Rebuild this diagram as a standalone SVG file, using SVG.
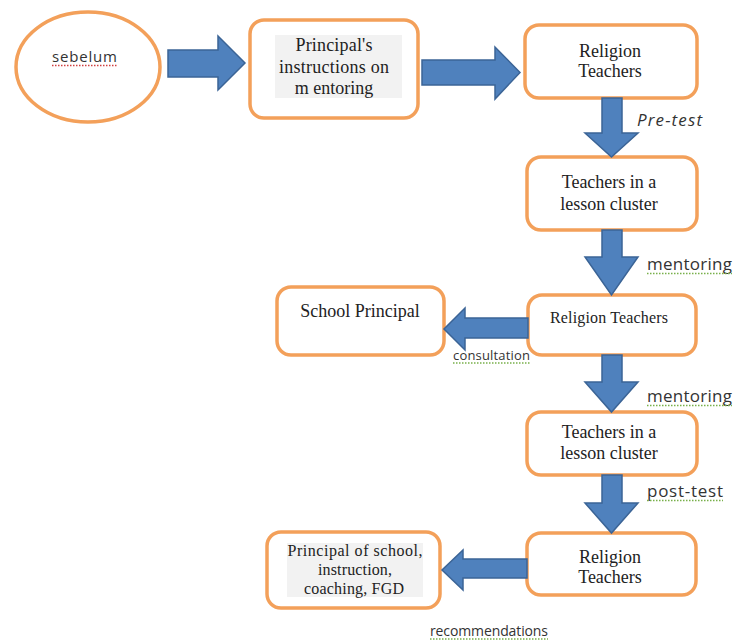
<svg xmlns="http://www.w3.org/2000/svg" width="734" height="641" viewBox="0 0 734 641">
<style>
.box{fill:#fff;stroke:#F3A05A;stroke-width:3.5}
.arr{fill:#4F81BD;stroke:#3B6496;stroke-width:1.5;stroke-linejoin:miter}
.ser{font-family:"Liberation Serif","Times New Roman",serif;fill:#222;text-anchor:middle}
.lbl{font-family:"Open Sans","Liberation Sans",sans-serif;fill:#333}
.sq{stroke:#78b04a;stroke-width:1.5;stroke-dasharray:1.5 1.5;fill:none}
.sqr{stroke:#d04040;stroke-width:1.5;stroke-dasharray:1.5 1.5;fill:none}
.shade{fill:#f2f2f2}
</style>
<rect width="734" height="641" fill="#fff"/>

<g id="n-sebelum">
<ellipse class="box" cx="88" cy="67" rx="72" ry="55"/>
<text class="lbl" x="52" y="62" font-size="15" textLength="65">sebelum</text>
<path class="sqr" d="M52 65.5 H117"/>
</g>

<g id="n-instructions">
<rect class="box" x="250" y="20" width="168" height="98" rx="14"/>
<rect class="shade" x="275" y="35" width="127" height="63"/>
<text class="ser" font-size="18" x="334" y="51" textLength="77">Principal's</text>
<text class="ser" font-size="18" x="334" y="73" textLength="110">instructions on</text>
<text class="ser" font-size="18" x="334" y="94">m entoring</text>
</g>

<g id="n-religion1">
<rect class="box" x="525" y="25" width="172" height="73" rx="14"/>
<text class="ser" font-size="18" x="610" y="57">Religion</text>
<text class="ser" font-size="18" x="610" y="77">Teachers</text>
</g>

<g id="n-cluster1">
<rect class="box" x="527" y="157" width="170" height="73" rx="14"/>
<text class="ser" font-size="18" x="609" y="188">Teachers in a</text>
<text class="ser" font-size="18" x="609" y="210">lesson cluster</text>
</g>

<g id="n-religion2">
<rect class="box" x="528" y="295" width="168" height="60" rx="14"/>
<text class="ser" font-size="16" x="609" y="323" textLength="118">Religion  Teachers</text>
</g>

<g id="n-principal">
<rect class="box" x="277" y="287" width="167" height="68" rx="14"/>
<text class="ser" font-size="18" x="360" y="317">School Principal</text>
</g>

<g id="n-cluster2">
<rect class="box" x="527" y="412" width="170" height="63" rx="14"/>
<text class="ser" font-size="18" x="609" y="438">Teachers in a</text>
<text class="ser" font-size="18" x="609" y="459">lesson cluster</text>
</g>

<g id="n-religion3">
<rect class="box" x="527" y="533" width="169" height="62" rx="14"/>
<text class="ser" font-size="18" x="610" y="563">Religion</text>
<text class="ser" font-size="18" x="610" y="583">Teachers</text>
</g>

<g id="n-recommend">
<rect class="box" x="267" y="532" width="173" height="76" rx="14"/>
<rect class="shade" x="287" y="543" width="136" height="54"/>
<text class="ser" font-size="16" fill="#333" x="355" y="556" textLength="135">Principal of school,</text>
<text class="ser" font-size="16" x="355" y="575" textLength="74">instruction,</text>
<text class="ser" font-size="16" x="354" y="594" textLength="100">coaching, FGD</text>
</g>

<g id="connectors">
<path class="arr" d="M168 50 H218 V36 L245 63 L218 90 V77 H168 Z"/>
<path class="arr" d="M422 60 H495 V47 L520 72.5 L495 99 V85 H422 Z"/>
<path class="arr" d="M602 98 H622 V133 H638 L611.5 157 L585 133 H602 Z"/>
<path class="arr" d="M602 230 H622 V257 H638 L611.5 295 L585 257 H602 Z"/>
<path class="arr" d="M528 318 V338 H465 V350 L444 329 L465 308 V318 Z"/>
<path class="arr" d="M602 355 H622 V382 H638 L611.5 412 L585 382 H602 Z"/>
<path class="arr" d="M602 475 H622 V503 H638 L611.5 533 L585 503 H602 Z"/>
<path class="arr" d="M527 559 V578 H463 V590 L442 570 L463 550 V559 Z"/>
</g>

<g id="labels">
<text class="lbl" x="637" y="126" font-size="17" font-style="italic" textLength="65">Pre-test</text>
<text class="lbl" x="647" y="270" font-size="17" textLength="85">mentoring</text>
<path class="sq" d="M647 273.5 H732"/>
<text class="lbl" x="453" y="360" font-size="13" textLength="77">consultation</text>
<path class="sq" d="M453 363 H530"/>
<text class="lbl" x="647" y="402" font-size="17" textLength="85">mentoring</text>
<path class="sq" d="M647 405.5 H732"/>
<text class="lbl" x="647" y="497" font-size="17" textLength="76">post-test</text>
<path class="sq" d="M647 500.5 H723"/>
<text class="lbl" x="430" y="636" font-size="14" textLength="118">recommendations</text>
<path class="sq" d="M430 639 H548"/>
</g>
</svg>
